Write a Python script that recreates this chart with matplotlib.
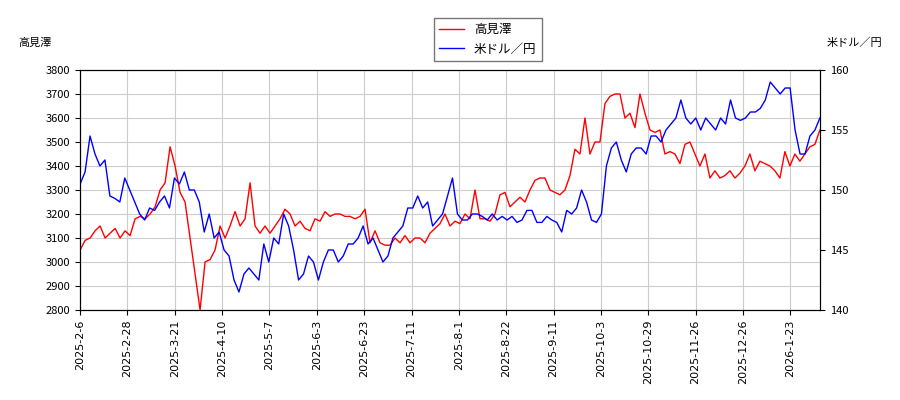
import numpy as np
import matplotlib
matplotlib.use("Agg")
import matplotlib.pyplot as plt

plt.rcParams['font.family'] = ['Noto Sans CJK JP', 'DejaVu Sans']

tick_labels = ["2025-2-6","2025-2-28","2025-3-21","2025-4-10","2025-5-7","2025-6-3","2025-6-23",
               "2025-7-11","2025-8-1","2025-8-22","2025-9-11","2025-10-3","2025-10-29","2025-11-26",
               "2025-12-26","2026-1-23"]

stock = [3050,3090,3100,3130,3150,3100,3120,3140,3100,3130,3110,3180,3190,3180,3200,3230,3300,3330,3480,3400,
         3290,3250,3100,2950,2800,3000,3010,3050,3150,3100,3150,3210,3150,3180,3330,3150,3120,3150,3120,3150,
         3180,3220,3200,3150,3170,3140,3130,3180,3170,3210,3190,3200,3200,3190,3190,3180,3190,3220,3080,3130,
         3080,3070,3070,3100,3080,3110,3080,3100,3100,3080,3120,3140,3160,3200,3150,3170,3160,3200,3180,3300,
         3180,3180,3170,3200,3280,3290,3230,3250,3270,3250,3300,3340,3350,3350,3300,3290,3280,3300,3360,3470,
         3450,3600,3450,3500,3500,3660,3690,3700,3700,3600,3620,3560,3700,3620,3550,3540,3550,3450,3460,3450,
         3410,3490,3500,3450,3400,3450,3350,3380,3350,3360,3380,3350,3370,3400,3450,3380,3420,3410,3400,3380,
         3350,3460,3400,3450,3420,3450,3480,3490,3550]

usd = [150.5,151.5,154.5,153,152,152.5,149.5,149.3,149.0,151,150,149,148,147.5,148.5,148.3,149,149.5,148.5,151,
       150.5,151.5,150,150,149,146.5,148,146,146.5,145,144.5,142.5,141.5,143,143.5,143,142.5,145.5,144,146,
       145.5,148,147,145,142.5,143,144.5,144,142.5,144,145,145,144,144.5,145.5,145.5,146,147,145.5,146,
       145,144,144.5,146,146.5,147,148.5,148.5,149.5,148.5,149,147,147.5,148,149.5,151,148,147.5,147.5,148,
       148,147.8,147.5,148,147.5,147.8,147.5,147.8,147.3,147.5,148.3,148.3,147.3,147.3,147.8,147.5,147.3,146.5,148.3,148,
       148.5,150,149,147.5,147.3,148,152,153.5,154,152.5,151.5,153,153.5,153.5,153,154.5,154.5,154,155,155.5,
       156,157.5,156,155.5,156,155,156,155.5,155,156,155.5,157.5,156,155.8,156,156.5,156.5,156.8,157.5,159,
       158.5,158,158.5,158.5,155,153,153,154.5,155,156]

N = 250
fig = plt.figure(figsize=(9, 4), dpi=100)
ax = fig.add_axes([0.089, 0.225, 0.822, 0.6])
ax2 = ax.twinx()
xs = np.linspace(0, N, len(stock))
xu = np.linspace(0, N, len(usd))
l1, = ax.plot(xs, stock, color='red', lw=1, label='高見澤')
l2, = ax2.plot(xu, usd, color='blue', lw=1, label='米ドル／円')
ax.set_xlim(0, N)
ax.set_ylim(2800, 3800)
ax.set_yticks(range(2800, 3801, 100))
ax2.set_ylim(140, 160)
ax2.set_yticks(range(140, 161, 5))
ax.set_xticks([16*i for i in range(len(tick_labels))])
ax.set_xticklabels(tick_labels, rotation=90, fontsize=8, family='DejaVu Sans')
ax.tick_params(axis='y', labelsize=8)
ax2.tick_params(axis='y', labelsize=8)
ax.grid(True, color='#cccccc', lw=0.8)
fig.text(0.02, 0.885, '高見澤', fontsize=8)
fig.text(0.98, 0.885, '米ドル／円', fontsize=8, ha='right')
fig.legend(handles=[l1, l2], loc='upper center', bbox_to_anchor=(0.542, 0.97), fontsize=9,
           fancybox=False, edgecolor='#555555')
fig.savefig('out.png')
